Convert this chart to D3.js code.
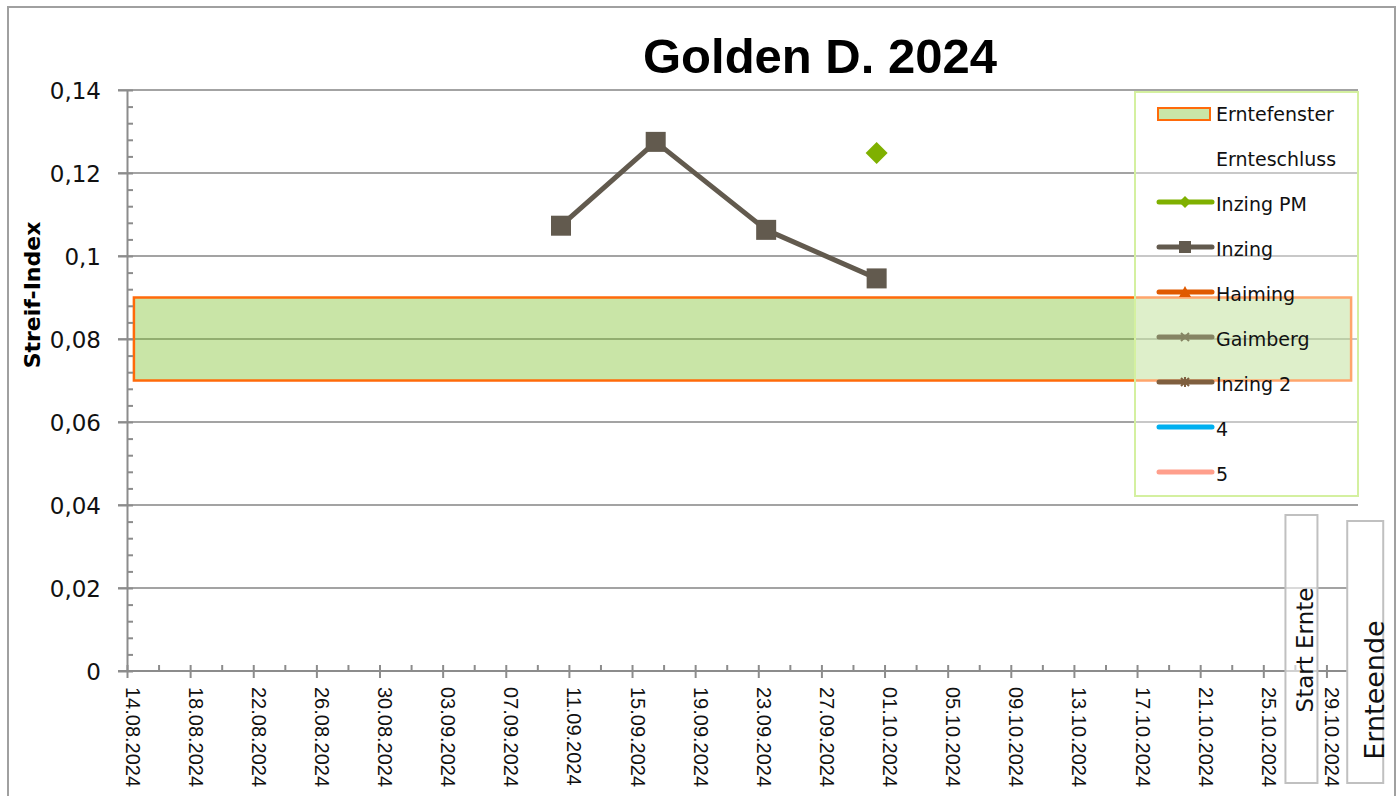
<!DOCTYPE html>
<html lang="de">
<head>
<meta charset="UTF-8">
<title>Golden D. 2024</title>
<script src="https://cdnjs.cloudflare.com/ajax/libs/d3/7.8.5/d3.min.js"></script>
<style>
  body { margin: 0; background: #fff; }
  svg { display: block; }
</style>
</head>
<body>
<svg id="chart" width="1398" height="796"></svg>
<script>
// chart data
const xDomain = ["14.08.2024 00:00", "31.10.2024 00:00"];
const xTickLabels = ["14.08.2024", "18.08.2024", "22.08.2024", "26.08.2024", "30.08.2024",
    "03.09.2024", "07.09.2024", "11.09.2024", "15.09.2024", "19.09.2024", "23.09.2024",
    "27.09.2024", "01.10.2024", "05.10.2024", "09.10.2024", "13.10.2024", "17.10.2024",
    "21.10.2024", "25.10.2024", "29.10.2024"];
const yTicks = [0, 0.02, 0.04, 0.06, 0.08, 0.1, 0.12, 0.14];
const yTickLabels = ["0", "0,02", "0,04", "0,06", "0,08", "0,1", "0,12", "0,14"];

const windowDates = ["14.08.2024 10:30", "30.10.2024 13:30"];
const windowValues = [0.07, 0.09];

const inzingDates = ["10.09.2024 12:00", "16.09.2024 12:00", "23.09.2024 12:00", "30.09.2024 12:00"];
const inzingValues = [0.1073, 0.1275, 0.1063, 0.0946];

const inzingPmDates = ["30.09.2024 12:00"];
const inzingPmValues = [0.1248];

const legendNames = ["Erntefenster", "Ernteschluss", "Inzing PM", "Inzing", "Haiming",
    "Gaimberg", "Inzing 2", "4", "5"];

const harvestLabels = ["Start Ernte", "Ernteende"];
const harvestDates = ["27.10.2024 10:00", "31.10.2024 11:00"];

// styles
const colors = {
    "Inzing PM": "#7fb000",
    "Inzing": "#625a4e",
    "Haiming": "#e05a00",
    "Gaimberg": "#858463",
    "Inzing 2": "#7f5f3f",
    "4": "#00b0f0",
    "5": "#ff9f8c"
};
const markers = {
    "Inzing PM": "diamond",
    "Inzing": "square",
    "Haiming": "triangle",
    "Gaimberg": "x",
    "Inzing 2": "star"
};
const textFont = "'DejaVu Sans', sans-serif";
const gridColor = "#a3a3a3";

const svg = d3.select("#chart");
const parse = d3.timeParse("%d.%m.%Y %H:%M");
const parseDay = d3.timeParse("%d.%m.%Y");

const plotLeft = 127, plotRight = 1358, plotTop = 90, plotBottom = 671;

const x = d3.scaleTime()
    .domain(xDomain.map(parse))
    .range([plotLeft, plotRight]);
const y = d3.scaleLinear()
    .domain([0, 0.14])
    .range([plotBottom, plotTop]);

// outer frame
svg.append("rect")
    .attr("x", 8).attr("y", 7)
    .attr("width", 1387).attr("height", 800)
    .attr("fill", "none")
    .attr("stroke", "#a0a0a0")
    .attr("stroke-width", 2);

// title
svg.append("text")
    .attr("x", 820).attr("y", 73)
    .attr("text-anchor", "middle")
    .style("font-family", "'Liberation Sans', Arial, sans-serif")
    .style("font-weight", "bold")
    .style("font-size", "49px")
    .text("Golden D. 2024");

// y axis title
svg.append("text")
    .attr("transform", "translate(40,295) rotate(-90)")
    .attr("text-anchor", "middle")
    .style("font-family", textFont)
    .style("font-weight", "bold")
    .style("font-size", "22px")
    .text("Streif-Index");

// gridlines
svg.append("g")
    .selectAll("line")
    .data(yTicks.slice(1))
    .enter()
    .append("line")
    .attr("x1", plotLeft - 9).attr("x2", plotRight)
    .attr("y1", d => y(d)).attr("y2", d => y(d))
    .attr("stroke", gridColor)
    .attr("stroke-width", 2);

// harvest window
const w0 = windowDates.map(parse);
svg.append("rect")
    .attr("x", x(w0[0]))
    .attr("y", y(windowValues[1]))
    .attr("width", x(w0[1]) - x(w0[0]))
    .attr("height", y(windowValues[0]) - y(windowValues[1]))
    .attr("fill", "#78be23")
    .attr("fill-opacity", 0.4)
    .attr("stroke", "#ff6a0a")
    .attr("stroke-width", 2.5);

// y axis
const minorY = d3.range(0, 0.1401, 0.004);
const yMinor = svg.append("g")
    .attr("transform", `translate(${plotLeft},0)`)
    .call(d3.axisLeft(y).tickValues(minorY).tickSize(-6).tickFormat(""));
yMinor.select(".domain").remove();
const yAxis = svg.append("g")
    .attr("transform", `translate(${plotLeft},0)`)
    .call(d3.axisLeft(y).tickValues(yTicks).tickSize(9)
        .tickFormat((d, i) => yTickLabels[i]).tickSizeOuter(0));
yAxis.selectAll("text")
    .attr("x", -26)
    .attr("dy", "0.36em")
    .style("font-family", textFont)
    .style("font-size", "23px")
    .attr("fill", "#111");

// x axis
const xTickDates = xTickLabels.map(parseDay);
const minorX = d3.timeDay.range(xTickDates[0], x.domain()[1], 1).filter((d, i) => i % 2 === 0);
const xMinor = svg.append("g")
    .attr("transform", `translate(0,${plotBottom})`)
    .call(d3.axisBottom(x).tickValues(minorX).tickSize(-6).tickFormat(""));
xMinor.select(".domain").remove();
const xAxis = svg.append("g")
    .attr("transform", `translate(0,${plotBottom})`)
    .call(d3.axisBottom(x).tickValues(xTickDates).tickSize(7)
        .tickFormat((d, i) => xTickLabels[i]).tickSizeOuter(0));
xAxis.select(".domain").attr("d", `M${plotLeft - 9},0H${plotRight}`);
xAxis.selectAll("text")
    .attr("transform", "rotate(90)")
    .attr("x", 16)
    .attr("y", 2)
    .attr("dy", 0)
    .attr("text-anchor", "start")
    .style("font-family", "'Liberation Sans', Arial, sans-serif")
    .style("font-size", "20px")
    .attr("fill", "#111");
svg.selectAll(".tick line, .domain")
    .attr("stroke", "#8c8c8c")
    .attr("stroke-width", 2);

// Inzing series
const inzing = inzingDates.map((d, i) => ({ date: parse(d), value: inzingValues[i] }));
svg.append("path")
    .datum(inzing)
    .attr("fill", "none")
    .attr("stroke", colors["Inzing"])
    .attr("stroke-width", 5)
    .attr("stroke-linejoin", "round")
    .attr("d", d3.line().x(d => x(d.date)).y(d => y(d.value)));
svg.append("g")
    .selectAll("rect")
    .data(inzing)
    .enter()
    .append("rect")
    .attr("x", d => x(d.date) - 10)
    .attr("y", d => y(d.value) - 10)
    .attr("width", 20).attr("height", 20)
    .attr("fill", colors["Inzing"]);

// Inzing PM series
const inzingPm = inzingPmDates.map((d, i) => ({ date: parse(d), value: inzingPmValues[i] }));
svg.append("g")
    .selectAll("path")
    .data(inzingPm)
    .enter()
    .append("path")
    .attr("transform", d => `translate(${x(d.date)},${y(d.value)})`)
    .attr("d", "M0,-11L11,0L0,11L-11,0Z")
    .attr("fill", colors["Inzing PM"]);

// harvest labels
const harvest = harvestDates.map((d, i) => ({ date: parse(d), label: harvestLabels[i] }));
const boxSpec = [
    { w: 32, top: 515, bottom: 783, fill: 0.6, size: 23, ty: 650, tx: 12 },
    { w: 36, top: 521, bottom: 783, fill: 1, size: 27, ty: 690, tx: 19 }
];
const hb = svg.append("g")
    .selectAll("g")
    .data(harvest)
    .enter()
    .append("g");
hb.append("rect")
    .attr("x", (d, i) => x(d.date) - boxSpec[i].w / 2)
    .attr("y", (d, i) => boxSpec[i].top)
    .attr("width", (d, i) => boxSpec[i].w)
    .attr("height", (d, i) => boxSpec[i].bottom - boxSpec[i].top)
    .attr("fill", "#fff")
    .attr("fill-opacity", (d, i) => boxSpec[i].fill)
    .attr("stroke", "#c0c0c0")
    .attr("stroke-width", 2);
hb.append("text")
    .attr("transform", (d, i) => `translate(${x(d.date) + boxSpec[i].tx},${boxSpec[i].ty}) rotate(-90)`)
    .attr("text-anchor", "middle")
    .style("font-family", textFont)
    .style("font-size", (d, i) => boxSpec[i].size + "px")
    .attr("fill", "#111")
    .text(d => d.label);

// legend
const lg = svg.append("g");
lg.append("rect")
    .attr("x", 1135).attr("y", 92)
    .attr("width", 223).attr("height", 404)
    .attr("fill", "#fff")
    .attr("fill-opacity", 0.4)
    .attr("stroke", "#d4f0a0")
    .attr("stroke-width", 2);

const rows = lg.selectAll("g.row")
    .data(legendNames)
    .enter()
    .append("g")
    .attr("class", "row")
    .attr("transform", (d, i) => `translate(0,${114 + i * 45})`);

rows.append("text")
    .attr("x", 1216)
    .attr("dy", "0.36em")
    .style("font-family", textFont)
    .style("font-size", "19px")
    .attr("fill", "#111")
    .text(d => d);

rows.filter(d => d === "Erntefenster")
    .append("rect")
    .attr("x", 1158).attr("y", -6)
    .attr("width", 52).attr("height", 12)
    .attr("fill", "#c9e5a7")
    .attr("stroke", "#ff6a0a")
    .attr("stroke-width", 2);

rows.filter(d => colors[d])
    .append("line")
    .attr("x1", 1159).attr("x2", 1212)
    .attr("y1", -2).attr("y2", -2)
    .attr("stroke", d => colors[d])
    .attr("stroke-width", 5)
    .attr("stroke-linecap", "round");

const markerPath = {
    diamond: "M0,-6L6,0L0,6L-6,0Z",
    square: "M-6,-6H6V6H-6Z",
    triangle: "M0,-6L6,5H-6Z",
    x: "M-4,-4L4,4M4,-4L-4,4",
    star: "M-4,-4L4,4M4,-4L-4,4M0,-5V5"
};
rows.filter(d => markers[d])
    .append("path")
    .attr("transform", "translate(1185,-2)")
    .attr("d", d => markerPath[markers[d]])
    .attr("fill", d => colors[d])
    .attr("stroke", d => colors[d])
    .attr("stroke-width", d => (markers[d] === "x" || markers[d] === "star") ? 2 : 0);
</script>
</body>
</html>
